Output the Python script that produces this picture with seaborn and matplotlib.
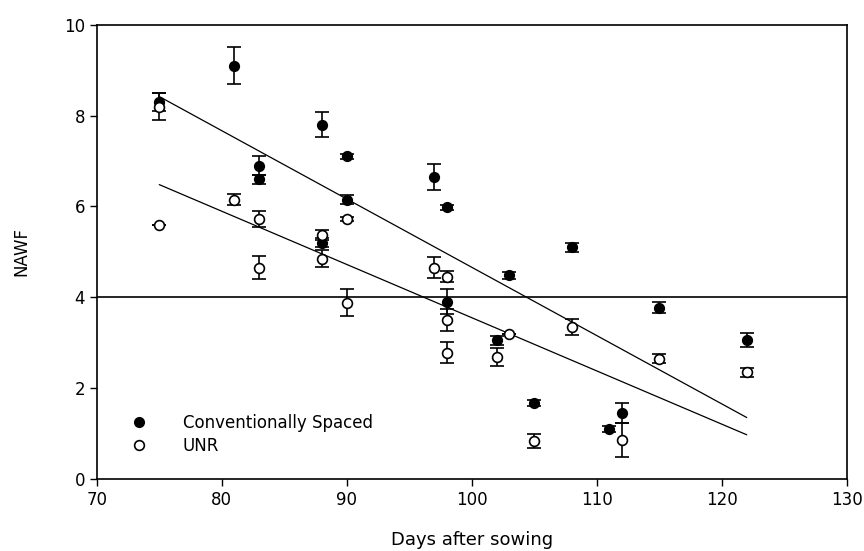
import matplotlib
matplotlib.use("Agg")
import matplotlib.pyplot as plt
import seaborn as sns
import numpy as np
import pandas as pd
from matplotlib.lines import Line2D

# Conventionally Spaced (filled)
cs_days = [75, 81, 83, 83, 88, 88, 90, 90, 97, 98, 98, 102, 103, 105, 108, 111, 112, 115, 122]
cs_nawf = [8.3, 9.1, 6.9, 6.6, 7.8, 5.2, 7.1, 6.15, 6.65, 5.98, 3.9, 3.05, 4.48, 1.67, 5.1, 1.1, 1.45, 3.77, 3.06]
cs_err = [0.2, 0.4, 0.2, 0.1, 0.27, 0.1, 0.05, 0.1, 0.28, 0.05, 0.28, 0.1, 0.08, 0.07, 0.1, 0.07, 0.22, 0.12, 0.15]

# UNR (open)
unr_days = [75, 75, 81, 83, 83, 88, 88, 90, 90, 97, 98, 98, 98, 102, 103, 105, 108, 112, 115, 122]
unr_nawf = [8.2, 5.58, 6.15, 5.72, 4.65, 5.37, 4.85, 5.72, 3.88, 4.65, 4.45, 3.5, 2.78, 2.68, 3.18, 0.83, 3.35, 0.85, 2.65, 2.35]
unr_err = [0.3, 0.0, 0.13, 0.17, 0.25, 0.1, 0.18, 0.05, 0.3, 0.23, 0.12, 0.25, 0.24, 0.2, 0.0, 0.15, 0.18, 0.38, 0.1, 0.1]

# Regression lines (endpoints)
fit_days = [75, 122]
cs_fit = [8.42, 1.35]
unr_fit = [6.48, 0.97]

threshold = 4.0
x_ticks = [70, 80, 90, 100, 110, 120, 130]
y_ticks = [0, 2, 4, 6, 8, 10]

sns.set_style("ticks")
plt.rcParams['font.family'] = ['DejaVu Sans']
plt.rcParams['text.color'] = 'black'
plt.rcParams['axes.labelcolor'] = 'black'

fig = plt.figure(figsize=(8.64, 5.51), dpi=100)
ax = fig.add_axes([0.112, 0.131, 0.868, 0.824])

df_cs = pd.DataFrame({"days": cs_days, "nawf": cs_nawf, "err": cs_err})
df_unr = pd.DataFrame({"days": unr_days, "nawf": unr_nawf, "err": unr_err})

ax.axhline(threshold, color="black", lw=1.2, zorder=1)

fit_df = pd.DataFrame({"days": fit_days + fit_days,
                       "nawf": cs_fit + unr_fit,
                       "series": ["cs", "cs", "unr", "unr"]})
sns.lineplot(data=fit_df, x="days", y="nawf", units="series", estimator=None,
             color="black", lw=0.9, ax=ax, zorder=2)

for df in (df_cs, df_unr):
    ax.errorbar(df["days"], df["nawf"], yerr=df["err"], fmt="none",
                ecolor="black", elinewidth=1.2, capsize=5, capthick=1.2, zorder=3)

sns.scatterplot(data=df_cs, x="days", y="nawf", color="black", edgecolor="black",
                s=50, linewidth=1, ax=ax, zorder=4)
sns.scatterplot(data=df_unr, x="days", y="nawf", color="white", edgecolor="black",
                s=50, linewidth=1.2, ax=ax, zorder=5)

ax.set_xlim(70, 130)
ax.set_ylim(0, 10)
ax.set_xticks(x_ticks)
ax.set_yticks(y_ticks)
ax.tick_params(direction="out", length=5, width=1, labelsize=12, colors="black")
for sp in ax.spines.values():
    sp.set_linewidth(1.2)
    sp.set_color("black")
ax.set_xlabel("Days after sowing", fontsize=13, labelpad=16, color="black")
ax.set_ylabel("NAWF", fontsize=12, labelpad=24, color="black")

handles = [
    Line2D([], [], marker="o", ls="none", color="black", markersize=7),
    Line2D([], [], marker="o", ls="none", markerfacecolor="white", markeredgecolor="black",
           markeredgewidth=1.2, markersize=7),
]
leg = ax.legend(handles, ["Conventionally Spaced", "UNR"], loc="lower left",
                bbox_to_anchor=(0.019, 0.027), frameon=False, fontsize=12,
                handletextpad=1.6, labelspacing=0.3, borderpad=0.2)
for t in leg.get_texts():
    t.set_color("black")

fig.savefig("out.png", dpi=100)
